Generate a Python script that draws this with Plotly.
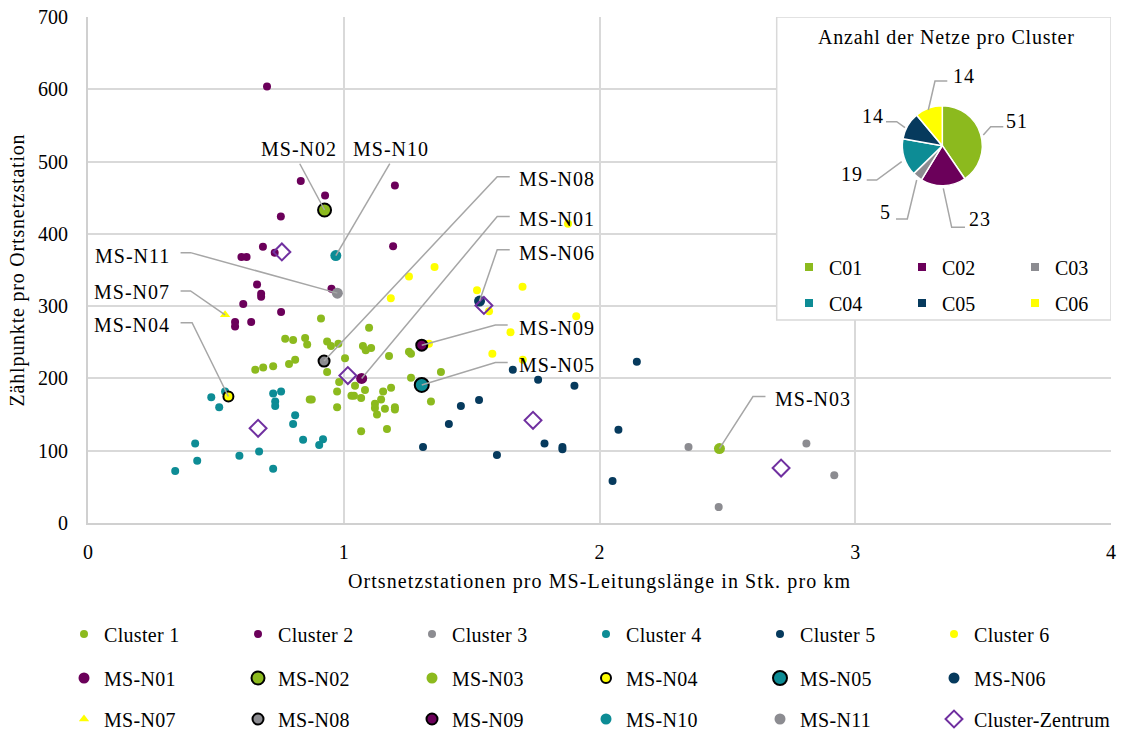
import plotly.graph_objects as go

# ---------------- data ----------------
c1_x = [0.911, 0.771, 0.802, 0.849, 0.857, 0.935, 0.950, 0.979, 1.099, 1.075, 1.086, 1.107,
        1.005, 0.786, 0.810, 0.724, 0.685, 0.654, 0.935, 0.982, 1.044, 0.974, 1.030, 1.040,
        1.083, 1.068, 0.867, 0.875, 0.974, 1.122, 1.122, 1.130, 1.068, 1.177, 1.255, 1.263,
        1.380, 1.263, 1.154, 1.185, 1.146, 1.161, 1.200, 1.200, 1.341, 1.169]
c1_y = [283, 255, 253, 256, 247, 251, 245, 248, 270, 245, 239, 242,
        228, 220, 226, 217, 215, 212, 209, 195, 190, 182, 176, 176,
        184, 173, 171, 171, 160, 165, 159, 150, 127, 231, 237, 234,
        209, 201, 182, 187, 171, 158, 160, 157, 168, 130]

c2_x = [0.700, 0.832, 0.927, 0.754, 0.684, 0.600, 0.620, 0.730, 0.952, 0.661, 0.677, 0.677,
        0.607, 0.755, 0.575, 0.575, 0.638, 1.200, 1.193]
c2_y = [604, 473, 453, 424, 382, 368, 368, 374, 324, 330, 317, 313,
        303, 292, 278, 272, 278, 467, 383]

c3_x = [2.348, 2.809, 2.918, 2.466]
c3_y = [105, 110, 66, 22]

c4_x = [0.536, 0.482, 0.513, 0.724, 0.755, 0.732, 0.732, 0.810, 0.802, 0.841, 0.919, 0.904,
        0.419, 0.427, 0.341, 0.592, 0.669, 0.724]
c4_y = [182, 174, 160, 179, 182, 168, 162, 149, 137, 115, 116, 108,
        110, 86, 72, 93, 99, 75]

c5_x = [1.661, 1.760, 1.902, 2.146, 1.529, 1.458, 1.411, 1.310, 1.599, 1.785, 1.855, 1.855,
        2.074, 2.051]
c5_y = [212, 198, 190, 223, 170, 162, 137, 105, 94, 110, 105, 102, 129, 58]

c6_x = [1.877, 1.355, 1.255, 1.184, 1.521, 1.699, 1.568, 1.909, 1.652, 1.333, 1.581, 1.700]
c6_y = [414, 354, 341, 311, 322, 327, 293, 286, 264, 248, 234, 226]

ms_names = ["MS-N01", "MS-N02", "MS-N03", "MS-N04", "MS-N05", "MS-N06",
            "MS-N07", "MS-N08", "MS-N09", "MS-N10", "MS-N11"]
ms_x = [1.070, 0.925, 2.469, 0.549, 1.305, 1.531, 0.536, 0.923, 1.305, 0.969, 0.975]
ms_y = [200, 433, 103, 175, 191, 307, 288, 224, 246, 370, 318]

center_x = [0.758, 1.016, 0.665, 1.548, 1.740, 2.710]
center_y = [375, 204, 131, 301, 142, 76]

pie_labels = ["C01", "C02", "C03", "C04", "C05", "C06"]
pie_values = [51, 23, 5, 19, 14, 14]

x_ticks = [0, 1, 2, 3, 4]
y_ticks = [0, 100, 200, 300, 400, 500, 600, 700]

# ---------------- styles ----------------
FONT = "Liberation Serif, Times New Roman, serif"
FS = 20
GREEN, PURPLE, GRAY, TEAL, NAVY, YELLOW = "#8CBA1E", "#6B005A", "#8C8C91", "#0D8C95", "#063A5D", "#FFFF00"
CENTER_COL = "#7030A0"
LEADER = "#A6A6A6"
cluster_cols = [GREEN, PURPLE, GRAY, TEAL, NAVY, YELLOW]


def sp(text, px=1.0):
    """letter-spaced text"""
    return f'<span style="letter-spacing:{px}px">{text}</span>'


ms_style = {
    "MS-N01": dict(color=PURPLE, size=11),
    "MS-N02": dict(color=GREEN, size=13, line=dict(color="black", width=2)),
    "MS-N03": dict(color=GREEN, size=11),
    "MS-N04": dict(color=YELLOW, size=10, line=dict(color="black", width=2)),
    "MS-N05": dict(color=TEAL, size=14, line=dict(color="black", width=2)),
    "MS-N06": dict(color=NAVY, size=11),
    "MS-N07": dict(color=YELLOW, size=9, symbol="triangle-up"),
    "MS-N08": dict(color=GRAY, size=11, line=dict(color="black", width=2)),
    "MS-N09": dict(color=PURPLE, size=11, line=dict(color="black", width=2)),
    "MS-N10": dict(color=TEAL, size=11),
    "MS-N11": dict(color=GRAY, size=11),
}

# label placement (layout, data units): text x, text y, anchor, line start, elbow
label_layout = {
    "MS-N02": dict(tx=0.824, ty=517, anchor="center", start=(0.828, 497), elbow=None),
    "MS-N10": dict(tx=1.186, ty=517, anchor="center", start=(1.180, 497), elbow=None),
    "MS-N08": dict(tx=1.676, ty=476, anchor="left", start=(1.649, 479), elbow=(1.600, 479)),
    "MS-N01": dict(tx=1.676, ty=420, anchor="left", start=(1.649, 424), elbow=(1.600, 424)),
    "MS-N06": dict(tx=1.676, ty=374, anchor="left", start=(1.649, 378), elbow=(1.600, 378)),
    "MS-N09": dict(tx=1.676, ty=270, anchor="left", start=(1.641, 274), elbow=(1.593, 274)),
    "MS-N05": dict(tx=1.676, ty=219, anchor="left", start=(1.641, 222), elbow=(1.593, 222)),
    "MS-N03": dict(tx=2.677, ty=172, anchor="left", start=(2.649, 175), elbow=(2.600, 175)),
    "MS-N11": dict(tx=0.327, ty=370, anchor="right", start=(0.362, 374), elbow=(0.401, 374)),
    "MS-N07": dict(tx=0.327, ty=320, anchor="right", start=(0.362, 321), elbow=(0.401, 321)),
    "MS-N04": dict(tx=0.327, ty=274, anchor="right", start=(0.362, 277), elbow=(0.407, 277)),
}

W, H = 1122, 731
ML, MR, MT, MB = 88, 11, 17, 208
PW, PH = W - ML - MR, H - MT - MB


def PX(px):
    return (px - ML) / PW


def PY(py):
    return (H - MB - py) / PH


fig = go.Figure()

# cluster traces
cl_x = [c1_x, c2_x, c3_x, c4_x, c5_x, c6_x]
cl_y = [c1_y, c2_y, c3_y, c4_y, c5_y, c6_y]
for i in range(6):
    fig.add_trace(go.Scatter(
        x=cl_x[i], y=cl_y[i], mode="markers", name=sp(f"Cluster {i + 1}", 0.3),
        marker=dict(size=8, color=cluster_cols[i]), legend="legend", hoverinfo="skip"))

# highlighted networks
for i, n in enumerate(ms_names):
    fig.add_trace(go.Scatter(
        x=[ms_x[i]], y=[ms_y[i]], mode="markers", name=sp(n, 0.3),
        marker=ms_style[n], legend="legend2" if i < 6 else "legend3", hoverinfo="skip"))

# cluster centers
fig.add_trace(go.Scatter(
    x=center_x, y=center_y, mode="markers", name=sp("Cluster-Zentrum", 0.2),
    marker=dict(symbol="diamond-open", size=13, color=CENTER_COL, line=dict(color=CENTER_COL, width=2)),
    legend="legend3", legendwidth=150, hoverinfo="skip"))

# pie legend entries (square swatches)
for i, lab in enumerate(pie_labels):
    fig.add_trace(go.Scatter(
        x=[None], y=[None], mode="markers", name=lab,
        marker=dict(symbol="square", size=8, color=cluster_cols[i]),
        legend="legend4" if i < 3 else "legend5", hoverinfo="skip"))

# pie
pcx, pcy, pr = 942.3, 145.7, 40
fig.add_trace(go.Pie(
    labels=pie_labels, values=pie_values, sort=False, direction="clockwise", rotation=0,
    marker=dict(colors=cluster_cols, line=dict(color="white", width=1.5)),
    textinfo="none", showlegend=False, hoverinfo="skip",
    domain=dict(x=[PX(pcx - pr), PX(pcx + pr)], y=[PY(pcy + pr), PY(pcy - pr)])))

shapes = []
annotations = []

# inset white box
shapes.append(dict(type="rect", xref="x", yref="y",
                   x0=(776.7 - ML) / (PW / 4), x1=4.0, y0=(H - MB - 320) / (PH / 700), y1=700,
                   fillcolor="white", line=dict(color="#D9D9D9", width=1.5), layer="between"))

# leader lines & labels
for i, n in enumerate(ms_names):
    L = label_layout[n]
    sx, sy = L["start"]
    if L["elbow"] is not None:
        ex, ey = L["elbow"]
        path = f"M {sx},{sy} L {ex},{ey} L {ms_x[i]},{ms_y[i]}"
    else:
        path = f"M {sx},{sy} L {ms_x[i]},{ms_y[i]}"
    shapes.append(dict(type="path", xref="x", yref="y", path=path,
                       line=dict(color=LEADER, width=1.5)))
    annotations.append(dict(x=L["tx"], y=L["ty"], xref="x", yref="y", text=sp(n, 1.0), showarrow=False,
                            xanchor=L["anchor"], yanchor="middle",
                            font=dict(family=FONT, size=FS, color="black")))

# pie labels with leader lines (pixel layout)
pie_label_layout = [
    ((1017.3, 120.7), [(983.3, 135), (990.7, 126.7), (1003.3, 126.7)]),
    ((979.7, 218.7), [(943.3, 188.3), (951.7, 227.3), (965, 227.3)]),
    ((885.7, 212.3), [(916.7, 180), (907.3, 219), (896, 219)]),
    ((852.2, 173.7), [(901.7, 161.7), (876.7, 180), (866.7, 180)]),
    ((872.5, 115.7), [(905, 127.7), (896.7, 121.7), (886, 121.7)]),
    ((963.7, 76.0), [(928.3, 110), (935, 81), (947.3, 81)]),
]
for k, ((tx, ty), pts) in enumerate(pie_label_layout):
    path = "M " + " L ".join(f"{PX(a)},{PY(b)}" for a, b in pts)
    shapes.append(dict(type="path", xref="paper", yref="paper", path=path,
                       line=dict(color=LEADER, width=1.5)))
    annotations.append(dict(x=PX(tx), y=PY(ty), xref="paper", yref="paper",
                            text=sp(str(pie_values[k]), 1.0), showarrow=False,
                            xanchor="center", yanchor="middle",
                            font=dict(family=FONT, size=FS, color="black")))

annotations.append(dict(x=PX(946.7), y=PY(37), xref="paper", yref="paper",
                        text=sp("Anzahl der Netze pro Cluster", 0.8), showarrow=False,
                        xanchor="center", yanchor="middle",
                        font=dict(family=FONT, size=FS, color="black")))

legend_common = dict(orientation="h", xanchor="left", yanchor="middle", bgcolor="rgba(0,0,0,0)",
                     font=dict(family=FONT, size=FS, color="black"), entrywidthmode="pixels",
                     traceorder="normal")
main_x = PX(64)
fig.update_layout(
    width=W, height=H,
    margin=dict(l=ML, r=MR, t=MT, b=MB, autoexpand=False),
    paper_bgcolor="white", plot_bgcolor="white",
    font=dict(family=FONT, size=FS, color="black"),
    xaxis=dict(range=[0, 4], tickvals=x_ticks, showgrid=True, gridcolor="#D9D9D9", gridwidth=1.5,
               showline=True, linecolor="#D0D0D0", linewidth=2, zeroline=False,
               tickfont=dict(family=FONT, size=FS, color="black"), ticklabelstandoff=10,
               title=dict(text=sp("Ortsnetzstationen pro MS-Leitungslänge in Stk. pro km", 1.1),
                          font=dict(family=FONT, size=FS, color="black"), standoff=12)),
    yaxis=dict(range=[0, 700], tickvals=y_ticks, showgrid=True, gridcolor="#D9D9D9", gridwidth=1.5,
               showline=True, linecolor="#D0D0D0", linewidth=2, zeroline=False,
               tickfont=dict(family=FONT, size=FS, color="black"), ticklabelstandoff=14,
               title=dict(text=sp("Zählpunkte pro Ortsnetzstation", 0.8),
                          font=dict(family=FONT, size=FS, color="black"), standoff=8)),
    legend=dict(x=main_x, y=PY(634), entrywidth=129, **legend_common),
    legend2=dict(x=main_x, y=PY(678), entrywidth=129, **legend_common),
    legend3=dict(x=main_x, y=PY(719), entrywidth=129, **legend_common),
    legend4=dict(x=PX(789), y=PY(267), entrywidth=68, **legend_common),
    legend5=dict(x=PX(789), y=PY(303), entrywidth=68, **legend_common),
    shapes=shapes, annotations=annotations,
)

fig.write_html("out.html", config={"displayModeBar": False},
               post_script="document.body.style.margin='0';")
